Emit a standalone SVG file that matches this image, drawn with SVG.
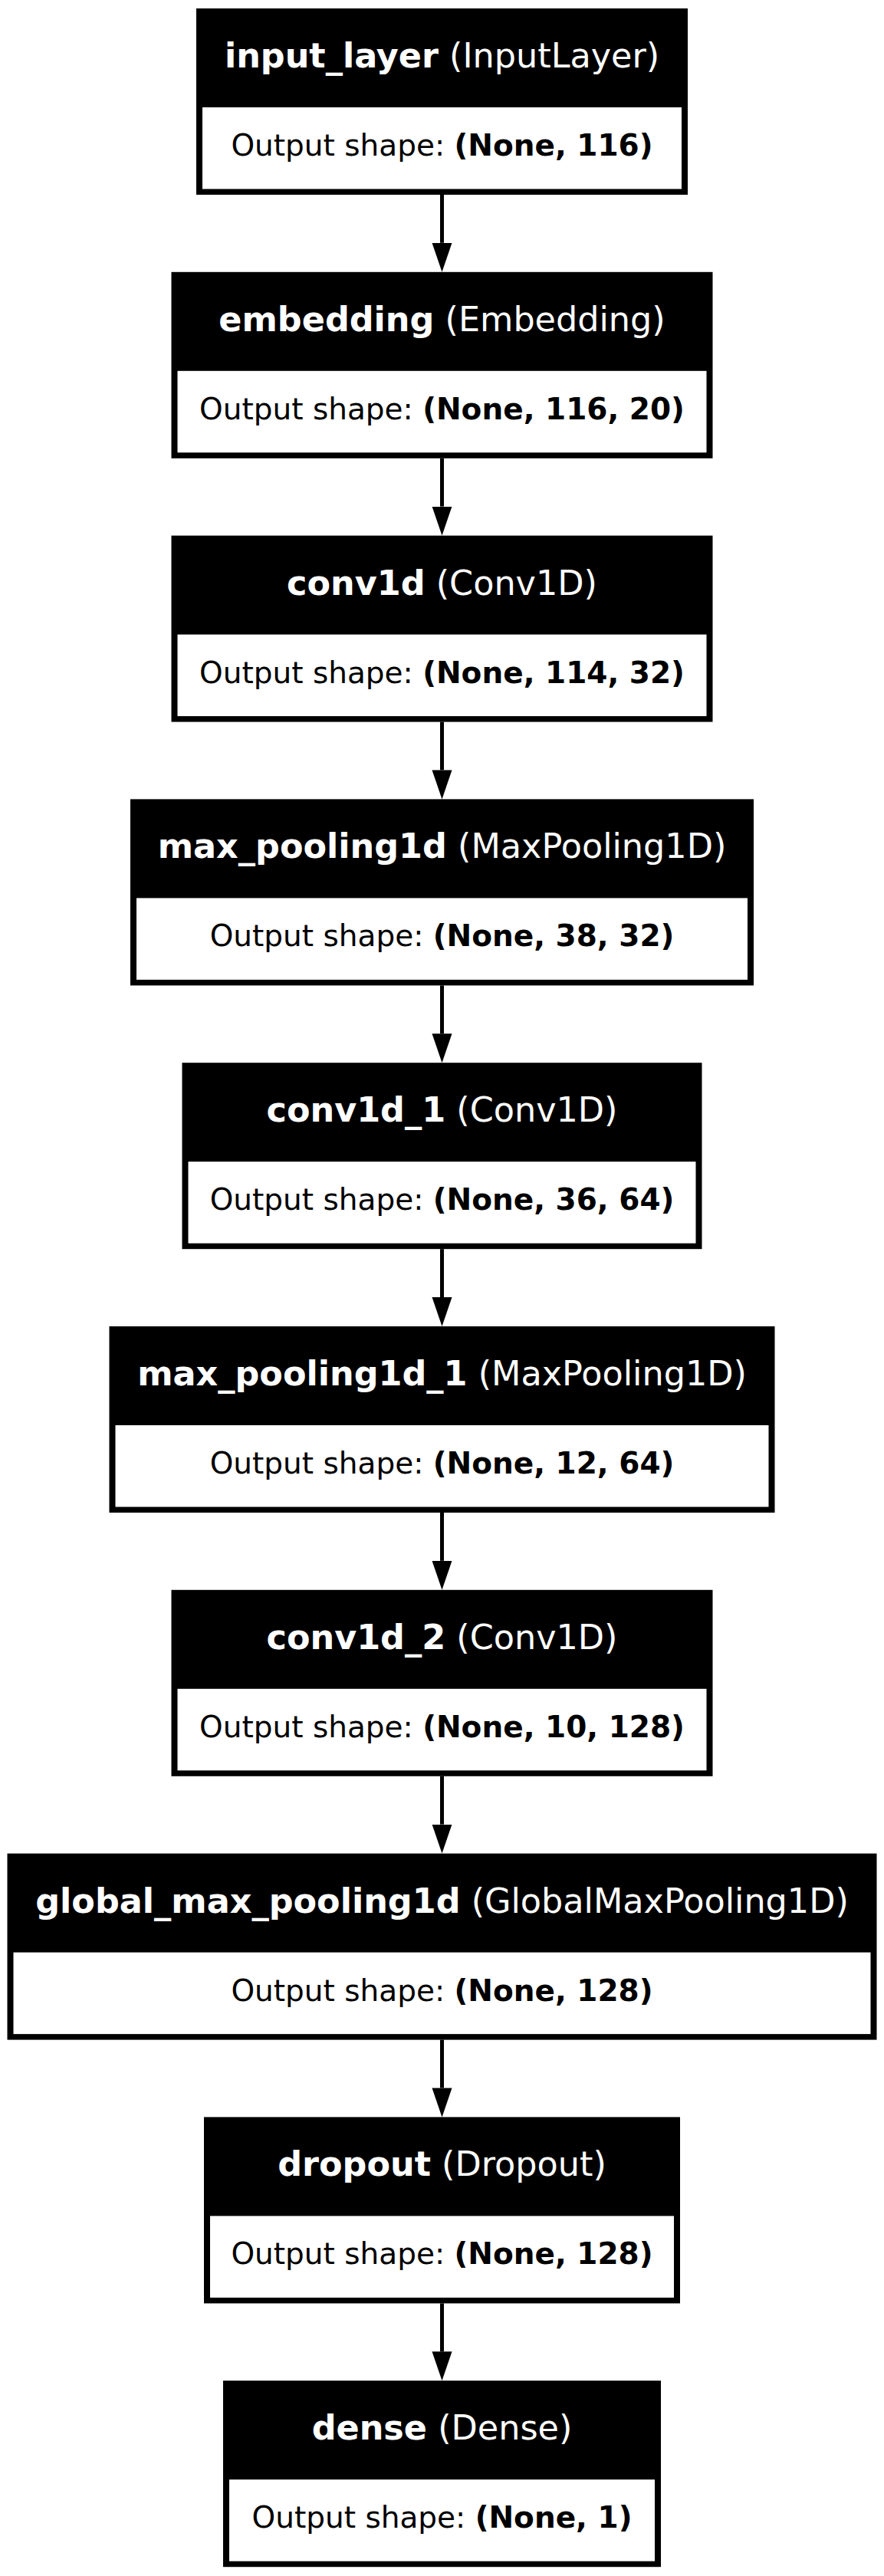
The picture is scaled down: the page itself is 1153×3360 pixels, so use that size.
<svg xmlns="http://www.w3.org/2000/svg" width="1153" height="3360" viewBox="0 0 1153 3360">
  <style>
    .hd { fill: #000; }
    .bd { fill: #fff; }
    .t { font-family: "DejaVu Sans", "Liberation Sans", sans-serif; font-size: 44.5px; fill: #fff; text-anchor: middle; }
    .o { font-family: "DejaVu Sans", "Liberation Sans", sans-serif; font-size: 39px; fill: #000; text-anchor: middle; }
    .b { font-weight: bold; }
    .edge { stroke: #000; stroke-width: 5; fill: none; marker-end: url(#arrow); }
  </style>
  <defs>
    <marker id="arrow" markerUnits="userSpaceOnUse" markerWidth="40" markerHeight="28" refX="0" refY="13" viewBox="0 0 40 26" orient="auto">
      <path d="M0,0 L38,13 L0,26 Z" fill="#000"/>
    </marker>
  </defs>
  <rect width="1153" height="3360" fill="#fff"/>

  <!-- connectors -->
  <g id="edges">
    <line class="edge" x1="576.5" y1="254" x2="576.5" y2="316.8"/>
    <line class="edge" x1="576.5" y1="597.8" x2="576.5" y2="660.6"/>
    <line class="edge" x1="576.5" y1="941.6" x2="576.5" y2="1004.4"/>
    <line class="edge" x1="576.5" y1="1285.4" x2="576.5" y2="1348.2"/>
    <line class="edge" x1="576.5" y1="1629.2" x2="576.5" y2="1692"/>
    <line class="edge" x1="576.5" y1="1973" x2="576.5" y2="2035.8"/>
    <line class="edge" x1="576.5" y1="2316.8" x2="576.5" y2="2379.6"/>
    <line class="edge" x1="576.5" y1="2660.6" x2="576.5" y2="2723.4"/>
    <line class="edge" x1="576.5" y1="3004.4" x2="576.5" y2="3067.2"/>
  </g>

  <!-- layers -->
  <g id="input_layer">
    <rect class="hd" x="256" y="11" width="641" height="243"/>
    <rect class="bd" x="264" y="140" width="625" height="106.5"/>
    <text class="t" x="576.5" y="88"><tspan class="b">input_layer</tspan> (InputLayer)</text>
    <text class="o" x="576.5" y="203">Output shape: <tspan class="b">(None, 116)</tspan></text>
  </g>
  <g id="embedding">
    <rect class="hd" x="223.5" y="354.8" width="706" height="243"/>
    <rect class="bd" x="231.5" y="483.8" width="690" height="106.5"/>
    <text class="t" x="576.5" y="431.8"><tspan class="b">embedding</tspan> (Embedding)</text>
    <text class="o" x="576.5" y="546.8">Output shape: <tspan class="b">(None, 116, 20)</tspan></text>
  </g>
  <g id="conv1d">
    <rect class="hd" x="223.5" y="698.6" width="706" height="243"/>
    <rect class="bd" x="231.5" y="827.6" width="690" height="106.5"/>
    <text class="t" x="576.5" y="775.6"><tspan class="b">conv1d</tspan> (Conv1D)</text>
    <text class="o" x="576.5" y="890.6">Output shape: <tspan class="b">(None, 114, 32)</tspan></text>
  </g>
  <g id="max_pooling1d">
    <rect class="hd" x="170" y="1042.4" width="813" height="243"/>
    <rect class="bd" x="178" y="1171.4" width="797" height="106.5"/>
    <text class="t" x="576.5" y="1119.4"><tspan class="b">max_pooling1d</tspan> (MaxPooling1D)</text>
    <text class="o" x="576.5" y="1234.4">Output shape: <tspan class="b">(None, 38, 32)</tspan></text>
  </g>
  <g id="conv1d_1">
    <rect class="hd" x="237.5" y="1386.2" width="678" height="243"/>
    <rect class="bd" x="245.5" y="1515.2" width="662" height="106.5"/>
    <text class="t" x="576.5" y="1463.2"><tspan class="b">conv1d_1</tspan> (Conv1D)</text>
    <text class="o" x="576.5" y="1578.2">Output shape: <tspan class="b">(None, 36, 64)</tspan></text>
  </g>
  <g id="max_pooling1d_1">
    <rect class="hd" x="142.5" y="1730" width="868" height="243"/>
    <rect class="bd" x="150.5" y="1859" width="852" height="106.5"/>
    <text class="t" x="576.5" y="1807"><tspan class="b">max_pooling1d_1</tspan> (MaxPooling1D)</text>
    <text class="o" x="576.5" y="1922">Output shape: <tspan class="b">(None, 12, 64)</tspan></text>
  </g>
  <g id="conv1d_2">
    <rect class="hd" x="223.5" y="2073.8" width="706" height="243"/>
    <rect class="bd" x="231.5" y="2202.8" width="690" height="106.5"/>
    <text class="t" x="576.5" y="2150.8"><tspan class="b">conv1d_2</tspan> (Conv1D)</text>
    <text class="o" x="576.5" y="2265.8">Output shape: <tspan class="b">(None, 10, 128)</tspan></text>
  </g>
  <g id="global_max_pooling1d">
    <rect class="hd" x="9.5" y="2417.6" width="1134" height="243"/>
    <rect class="bd" x="17.5" y="2546.6" width="1118" height="106.5"/>
    <text class="t" x="576.5" y="2494.6"><tspan class="b">global_max_pooling1d</tspan> (GlobalMaxPooling1D)</text>
    <text class="o" x="576.5" y="2609.6">Output shape: <tspan class="b">(None, 128)</tspan></text>
  </g>
  <g id="dropout">
    <rect class="hd" x="266" y="2761.4" width="621" height="243"/>
    <rect class="bd" x="274" y="2890.4" width="605" height="106.5"/>
    <text class="t" x="576.5" y="2838.4"><tspan class="b">dropout</tspan> (Dropout)</text>
    <text class="o" x="576.5" y="2953.4">Output shape: <tspan class="b">(None, 128)</tspan></text>
  </g>
  <g id="dense">
    <rect class="hd" x="291" y="3105.2" width="571" height="243"/>
    <rect class="bd" x="299" y="3234.2" width="555" height="106.5"/>
    <text class="t" x="576.5" y="3182.2"><tspan class="b">dense</tspan> (Dense)</text>
    <text class="o" x="576.5" y="3297.2">Output shape: <tspan class="b">(None, 1)</tspan></text>
  </g>
</svg>
